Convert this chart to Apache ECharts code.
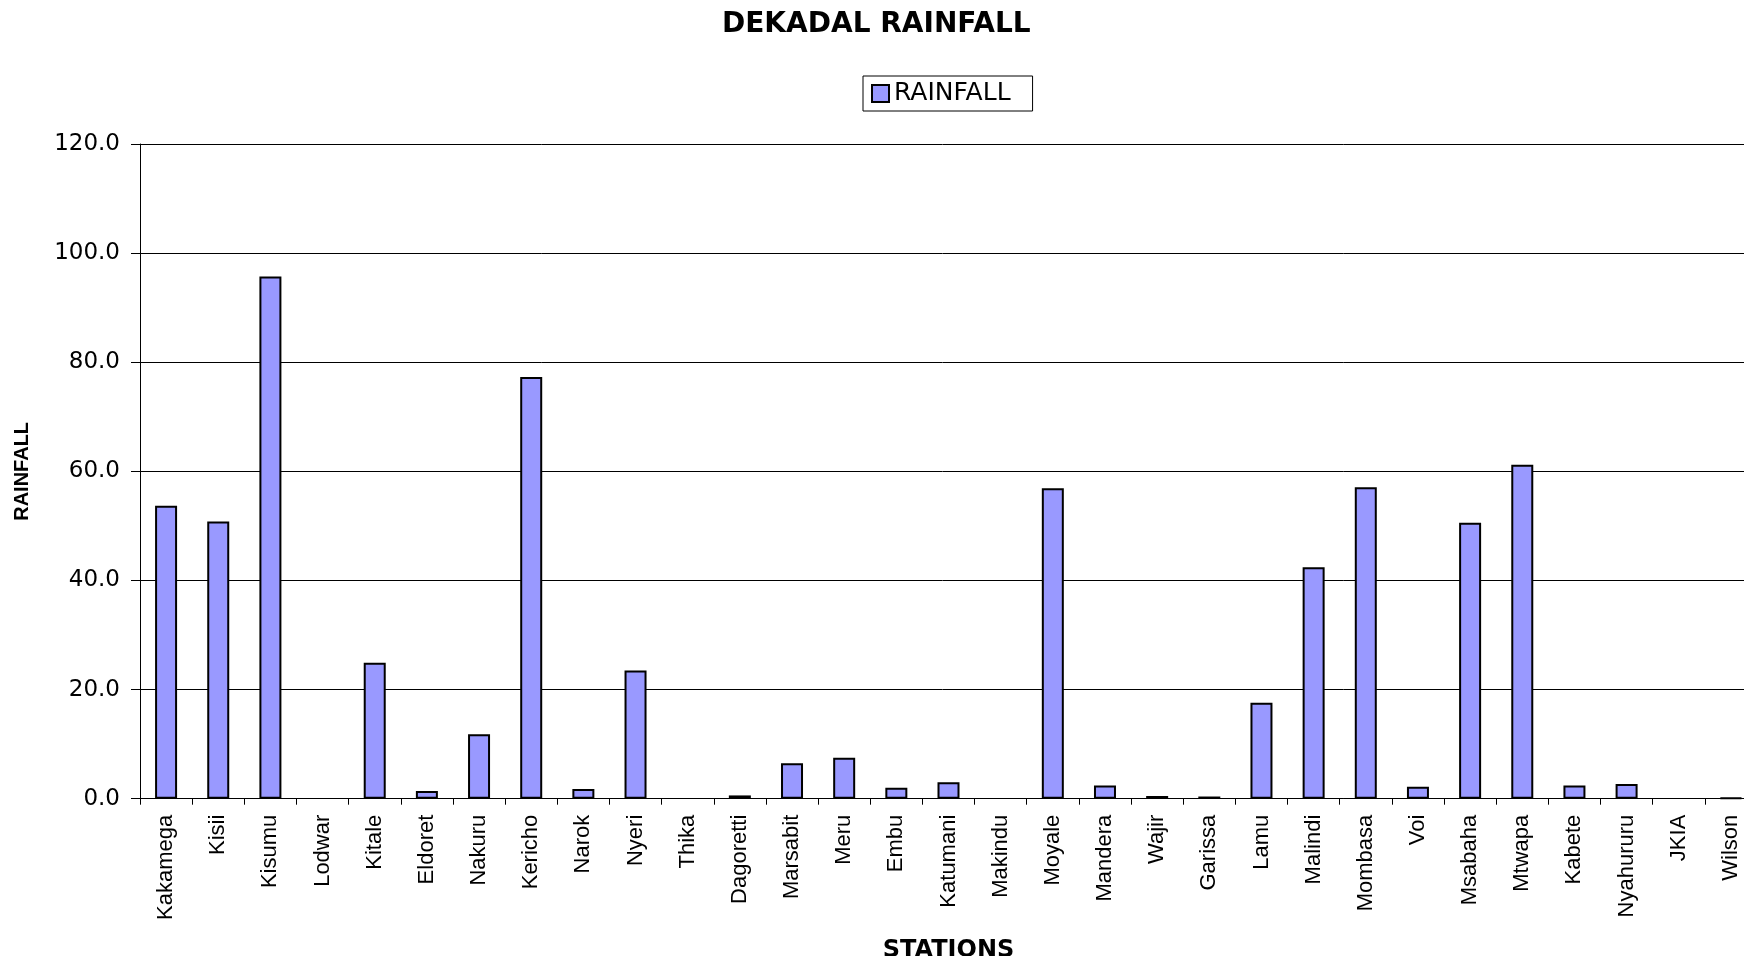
<!DOCTYPE html>
<html>
<head>
<meta charset="utf-8">
<script src="https://cdn.jsdelivr.net/npm/echarts@6/dist/echarts.min.js"></script>
<style>
  html, body { margin: 0; padding: 0; background: #fff; }
  #chart { width: 1744px; height: 956px; }
</style>
</head>
<body>
<div id="chart"></div>
<script>
const stations = ['Kakamega','Kisii','Kisumu','Lodwar','Kitale','Eldoret','Nakuru','Kericho','Narok','Nyeri','Thika','Dagoretti','Marsabit','Meru','Embu','Katumani','Makindu','Moyale','Mandera','Wajir','Garissa','Lamu','Malindi','Mombasa','Voi','Msabaha','Mtwapa','Kabete','Nyahururu','JKIA','Wilson'];
const rainfall = [53.7, 50.8, 95.7, 0, 24.9, 1.4, 11.8, 77.3, 1.8, 23.5, 0, 0.6, 6.5, 7.5, 2.0, 3.0, 0, 56.9, 2.4, 0.5, 0.4, 17.6, 42.4, 57.1, 2.2, 50.6, 61.2, 2.4, 2.7, 0, 0.15];
const yTicks = { min: 0, max: 120, interval: 20 };

const chart = echarts.init(document.getElementById('chart'));
chart.setOption({
  animation: false,
  backgroundColor: '#fff',
  title: {
    text: 'DEKADAL RAINFALL',
    left: 722,
    top: 11,
    padding: 0,
    textStyle: { fontFamily: 'DejaVu Sans', fontWeight: 'bold', fontSize: 28, color: '#000' }
  },
  legend: {
    data: ['RAINFALL'],
    left: 863,
    top: 76,
    padding: [5, 22, 5, 8],
    borderColor: '#000',
    borderWidth: 1,
    itemWidth: 17,
    itemHeight: 17,
    icon: 'rect',
    textStyle: { fontFamily: 'DejaVu Sans', fontSize: 25, color: '#000' }
  },
  grid: {
    left: 140,
    top: 144,
    width: 1617,
    height: 654.7,
    containLabel: false,
    outerBoundsMode: 'none'
  },
  xAxis: {
    type: 'category',
    data: stations,
    name: 'STATIONS',
    nameLocation: 'middle',
    nameGap: 140,
    nameTextStyle: { fontFamily: 'DejaVu Sans', fontWeight: 'bold', fontSize: 24, color: '#000' },
    axisLine: { lineStyle: { color: '#000', width: 1 } },
    axisTick: { show: true, length: 6, lineStyle: { color: '#000' } },
    axisLabel: {
      rotate: 90,
      interval: 0,
      margin: 16,
      fontFamily: 'Liberation Sans',
      fontSize: 22,
      color: '#000'
    }
  },
  yAxis: {
    type: 'value',
    min: yTicks.min,
    max: yTicks.max,
    interval: yTicks.interval,
    name: 'RAINFALL',
    nameLocation: 'middle',
    nameRotate: 90,
    nameGap: 108,
    nameTextStyle: { fontFamily: 'Liberation Sans', fontWeight: 'bold', fontSize: 20, color: '#000' },
    axisLine: { show: true, lineStyle: { color: '#000', width: 1 } },
    axisTick: { show: true, length: 9, lineStyle: { color: '#000' } },
    axisLabel: {
      margin: 20,
      fontFamily: 'DejaVu Sans',
      fontSize: 23,
      color: '#000',
      formatter: v => v.toFixed(1)
    },
    splitLine: { show: true, lineStyle: { color: '#000', width: 1 } }
  },
  series: [{
    name: 'RAINFALL',
    type: 'bar',
    data: rainfall.map(v => v === 0 ? { value: 0, itemStyle: { borderWidth: 0 } } : v),
    barWidth: 22,
    itemStyle: { color: '#9999FF', borderColor: '#000', borderWidth: 2 }
  }]
});
</script>
</body>
</html>
